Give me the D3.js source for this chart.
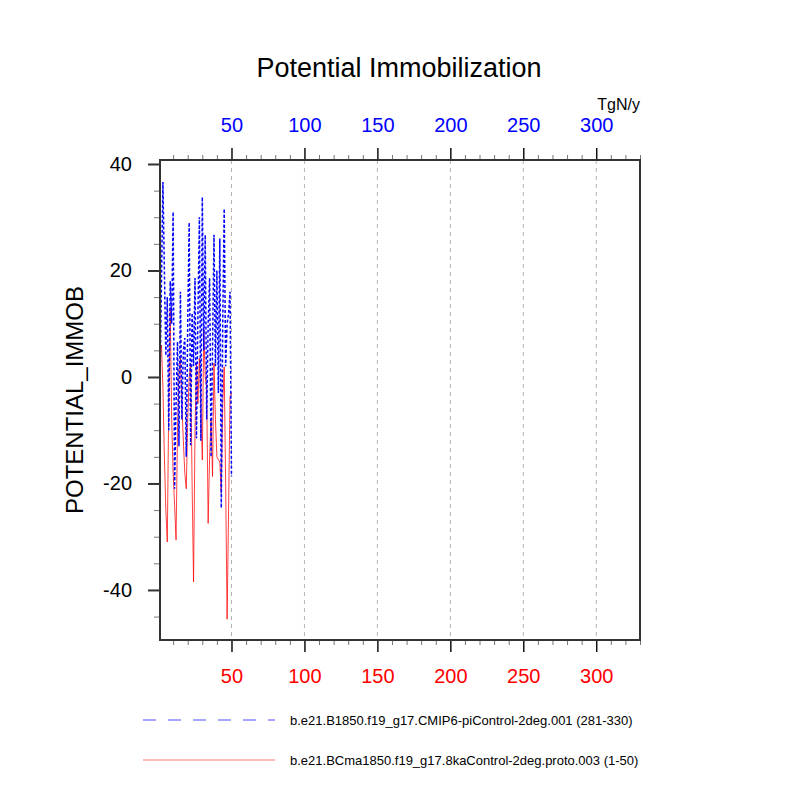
<!DOCTYPE html>
<html>
<head>
<meta charset="utf-8">
<script src="https://cdn.jsdelivr.net/npm/d3@7"></script>
<style>
  body { margin: 0; background: #fff; }
  svg { font-family: "Liberation Sans", Arial, Helvetica, sans-serif; }
</style>
</head>
<body>
<svg id="chart" width="800" height="800"></svg>
<script>
// values, one per year (index 1..50)
var caseBlue = "b.e21.B1850.f19_g17.CMIP6-piControl-2deg.001 (281-330)";
var caseRed = "b.e21.BCma1850.f19_g17.8kaControl-2deg.proto.003 (1-50)";
var blueVals = [-2, 18, 36.6, 20, 4, 15, -10, 18, 10, 31,
                -21, -5, 6.6, -13, 16, -8, 5, 7.3, -15, 10,
                29, -12.8, 12, 2, 18.6, -11.5, 12, 30, -12, 33.8,
                5, 26.7, -8, 10, 18.6, -15, 5, 26.7, 2, 20,
                -3, 26, -24.6, 10, 31.6, 2, 10, 12, 16, -18.7];
var redVals = [4, 6, -2, -15, -25, -31, -5, 13, -8, -18,
               -24, -30.6, -10, 1, 3.5, -5, -12, -18, -21, -8,
               0, 2.6, -20, -38.5, -10, 2.6, -5, 3.5, -5, -15.6,
               9, 0, -2, -27.5, -15, -7.7, -18.7, 2.6, -8, -15,
               -15.5, -16, -21.8, -5, 1.9, -20, -45.5, -25, -3.7, -3];
var xMajor = [50, 100, 150, 200, 250, 300];
var yMajor = [-40, -20, 0, 20, 40];

var svg = d3.select("#chart");
var pL = 160, pT = 160, pW = 480, pH = 480;

var x = d3.scaleLinear().domain([1, 330]).range([pL, pL + pW]);
var y = d3.scaleLinear().domain([-49.4, 40.75]).range([pT + pH, pT]);

var xMinor = d3.range(10, 331, 10).filter(function (d) { return d % 50 != 0; });
var yMinor = d3.range(-45, 41, 5).filter(function (d) { return d % 20 != 0; });

// vertical grid lines
svg.append("g").selectAll("line").data(xMajor).enter().append("line")
    .attr("x1", function (d) { return x(d); })
    .attr("x2", function (d) { return x(d); })
    .attr("y1", pT).attr("y2", pT + pH)
    .attr("stroke", "#b4b4b4").attr("stroke-width", 1)
    .attr("stroke-dasharray", "4,4");

function tickAxis(axis, tx, ty, values, size, col, width, pad, fmt, labCol) {
    var g = svg.append("g").attr("transform", "translate(" + tx + "," + ty + ")")
        .call(axis.tickValues(values).tickSize(size).tickSizeOuter(0).tickPadding(pad)
            .tickFormat(fmt));
    g.select(".domain").remove();
    g.selectAll(".tick line").attr("stroke", col).attr("stroke-width", width);
    g.selectAll(".tick text").attr("font-size", 20).attr("fill", labCol || "#000")
        .attr("font-family", "Liberation Sans, Arial, sans-serif");
    return g;
}
var noLab = function () { return ""; };
var plain = function (d) { return String(d); };   // keeps the hyphen minus

// bottom
tickAxis(d3.axisBottom(x), 0, pT + pH, xMinor, 5, "#777", 1, 8, noLab);
var gb = tickAxis(d3.axisBottom(x), 0, pT + pH, xMajor, 12, "#111", 1.5, 8, plain, "red");
gb.selectAll(".tick text").attr("dy", "1.15em");
// top
tickAxis(d3.axisTop(x), 0, pT, xMinor, 5, "#777", 1, 8, noLab);
var gt = tickAxis(d3.axisTop(x), 0, pT, xMajor, 12, "#111", 1.5, 8, plain, "blue");
gt.selectAll(".tick text").attr("dy", "-0.4em");
// left
tickAxis(d3.axisLeft(y), pL, 0, yMinor, 6, "#777", 1, 8, noLab);
tickAxis(d3.axisLeft(y), pL, 0, yMajor, 12, "#333", 2, 16, plain);

// data lines
var line = d3.line()
    .x(function (d, i) { return x(i + 1); })
    .y(function (d) { return y(d); });

svg.append("path").datum(redVals)
    .attr("d", line).attr("fill", "none")
    .attr("stroke", "#ff0000").attr("stroke-width", 1).attr("stroke-opacity", 0.75);
svg.append("path").datum(blueVals)
    .attr("d", line).attr("fill", "none")
    .attr("stroke", "#0000ff").attr("stroke-width", 1.5)
    .attr("stroke-dasharray", "3,2");

// frame
svg.append("rect").attr("x", pL).attr("y", pT).attr("width", pW).attr("height", pH)
    .attr("fill", "none").attr("stroke", "#333").attr("stroke-width", 2);

// titles
svg.append("text").attr("x", 399).attr("y", 77).attr("text-anchor", "middle")
    .attr("font-size", 27).text("Potential Immobilization");
svg.append("text").attr("x", 640).attr("y", 110).attr("text-anchor", "end")
    .attr("font-size", 16).text("TgN/y");
svg.append("text").attr("transform", "translate(83," + (pT + pH / 2) + ") rotate(-90)")
    .attr("text-anchor", "middle").attr("font-size", 24).text("POTENTIAL_IMMOB");

// legend
var legend = [
    {name: caseBlue, color: "#0000ff", dash: "13,12", width: 1, op: 0.7, y: 720},
    {name: caseRed, color: "#ff0000", dash: null, width: 1, op: 0.55, y: 760}
];
var lg = svg.append("g").selectAll("g").data(legend).enter().append("g");
lg.append("line").attr("x1", 143).attr("x2", 275)
    .attr("y1", function (d) { return d.y; }).attr("y2", function (d) { return d.y; })
    .attr("stroke", function (d) { return d.color; })
    .attr("stroke-width", function (d) { return d.width; })
    .attr("stroke-opacity", function (d) { return d.op; })
    .attr("stroke-dasharray", function (d) { return d.dash; });
lg.append("text").attr("x", 290).attr("y", function (d) { return d.y + 5; })
    .attr("font-size", 13).text(function (d) { return d.name; });
</script>
</body>
</html>
